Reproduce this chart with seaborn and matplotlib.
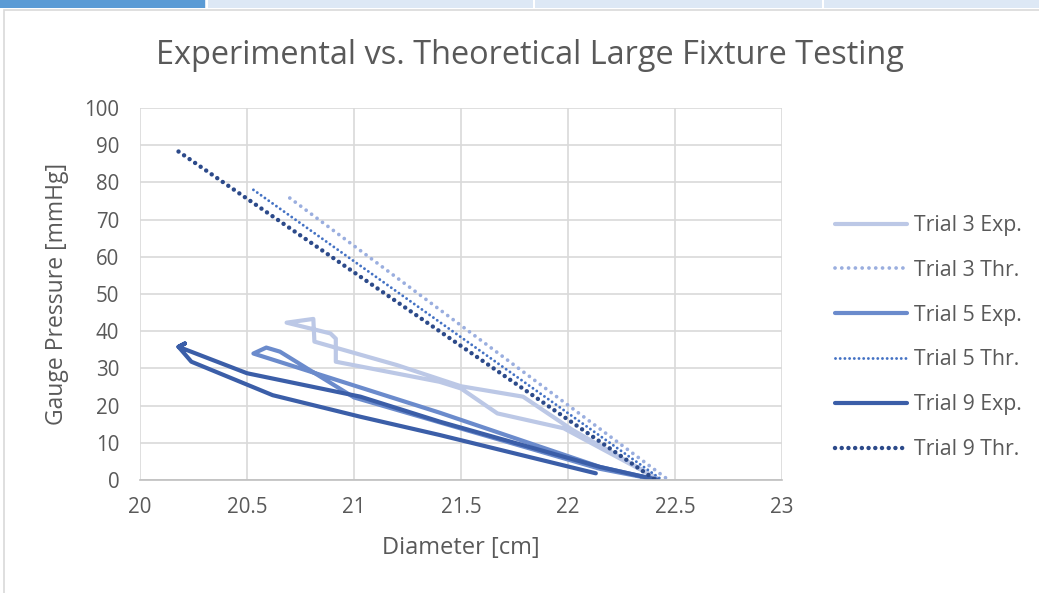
import numpy as np
import pandas as pd
import matplotlib.pyplot as plt
import matplotlib.patches as mpatches
import seaborn as sns

# =========================
# Data
# =========================
trial3_exp_d = [22.42, 21.98, 21.67, 21.50, 21.40, 20.915, 20.915, 20.89, 20.685, 20.81, 20.815, 21.20, 21.50, 21.79, 22.02, 22.42]
trial3_exp_p = [0.3, 13.9, 17.9, 24.6, 26.4, 31.8, 38.0, 39.4, 42.3, 43.3, 37.2, 30.9, 25.2, 22.4, 13.5, 0.3]

trial3_thr_d = [20.70, 22.47]
trial3_thr_p = [75.8, 0.0]

trial5_exp_d = [22.42, 22.15, 21.40, 20.53, 20.59, 20.654, 21.00, 21.40, 22.15, 22.42]
trial5_exp_p = [0.0, 3.5, 18.1, 34.0, 35.6, 34.5, 22.2, 15.5, 3.0, 0.0]

trial5_thr_d = [20.53, 22.44]
trial5_thr_p = [78.0, 0.0]

trial9_exp_d = [22.42, 22.15, 21.40, 21.03, 20.50, 20.18, 20.21, 20.18, 20.24, 20.62, 21.03, 21.40, 22.13]
trial9_exp_p = [0.0, 3.5, 15.7, 22.4, 28.7, 35.8, 36.7, 35.8, 31.8, 22.8, 17.0, 12.1, 1.8]

trial9_thr_d = [20.18, 22.41]
trial9_thr_p = [88.3, 0.0]

labels = ["Trial 3 Exp.", "Trial 3 Thr.", "Trial 5 Exp.", "Trial 5 Thr.", "Trial 9 Exp.", "Trial 9 Thr."]
colors = ["#bcc8e6", "#9aaedf", "#6b8bcc", "#4472c4", "#3b5ea8", "#2c4a8a"]

series = [
    (trial3_exp_d, trial3_exp_p),
    (trial3_thr_d, trial3_thr_p),
    (trial5_exp_d, trial5_exp_p),
    (trial5_thr_d, trial5_thr_p),
    (trial9_exp_d, trial9_exp_p),
    (trial9_thr_d, trial9_thr_p),
]

# solid for experimental, round dots for theoretical
styles = [
    dict(linewidth=3.0, linestyle="-"),
    dict(linewidth=2.7, linestyle=(0, (0.01, 1.8))),
    dict(linewidth=3.0, linestyle="-"),
    dict(linewidth=2.1, linestyle=(0, (0.01, 1.6))),
    dict(linewidth=3.0, linestyle="-"),
    dict(linewidth=3.2, linestyle=(0, (0.01, 1.5))),
]

# =========================
# Plot
# =========================
sns.set_style("white")
plt.rcParams['font.family'] = ['Open Sans', 'DejaVu Sans']

fig = plt.figure(figsize=(10.39, 5.93), dpi=100)
ax = fig.add_axes([140 / 1039, 1 - 480 / 593, 642 / 1039, 372 / 593])

# spreadsheet strip + chart border
fig.patches.append(mpatches.Rectangle((0, 1 - 8 / 593), 1, 8 / 593, transform=fig.transFigure,
                                      facecolor="#dde8f5", edgecolor="none", zorder=0))
fig.patches.append(mpatches.Rectangle((0, 1 - 8 / 593), 205 / 1039, 8 / 593, transform=fig.transFigure,
                                      facecolor="#5b9bd5", edgecolor="none", zorder=1))
for xs in [206, 533, 822]:
    fig.patches.append(mpatches.Rectangle((xs / 1039, 1 - 8 / 593), 2 / 1039, 8 / 593, transform=fig.transFigure,
                                          facecolor="white", edgecolor="none", zorder=2))
fig.patches.append(mpatches.Rectangle((4 / 1039, -0.05), 1.1, 1.05 - 10 / 593, transform=fig.transFigure,
                                      facecolor="none", edgecolor="#d9d9d9", linewidth=1.2, zorder=3))

for (d, p), lab, col, st in zip(series, labels, colors, styles):
    sns.lineplot(x=d, y=p, sort=False, estimator=None, ax=ax, color=col, label=lab,
                 solid_capstyle="round", dash_capstyle="round", solid_joinstyle="round", **st)

ax.set_xlim(20, 23)
ax.set_ylim(0, 100)
ax.set_xticks(np.arange(20, 23.01, 0.5))
ax.set_xticklabels(["20", "20.5", "21", "21.5", "22", "22.5", "23"])
ax.set_yticks(np.arange(0, 101, 10))
ax.grid(True, color="#d9d9d9", linewidth=1.2)
ax.set_axisbelow(True)
for s in ["top", "right", "left"]:
    ax.spines[s].set_visible(False)
ax.spines["bottom"].set_color("#bfbfbf")
ax.spines["bottom"].set_linewidth(1.2)
ax.tick_params(axis="y", length=0, labelsize=14.8, labelcolor="#595959", pad=15)
ax.tick_params(axis="x", length=0, labelsize=14.8, labelcolor="#595959", pad=12)

# title is centred on the whole chart area, not on the plot area
fig.text(530 / 1039, 1 - 55 / 593, "Experimental vs. Theoretical Large Fixture Testing",
         fontsize=23.4, color="#595959", ha="center", va="center")
ax.set_xlabel("Diameter [cm]", fontsize=17, color="#595959", labelpad=13)
ax.set_ylabel("Gauge Pressure [mmHg]", fontsize=16.5, color="#595959", labelpad=11)

leg = ax.legend(loc="center left", bbox_to_anchor=(1.052, 0.383), frameon=False, fontsize=15.3,
                handlelength=3.4, handletextpad=0.33, labelspacing=1.12)
for t in leg.get_texts():
    t.set_color("#595959")

fig.savefig("out.png", dpi=100)
